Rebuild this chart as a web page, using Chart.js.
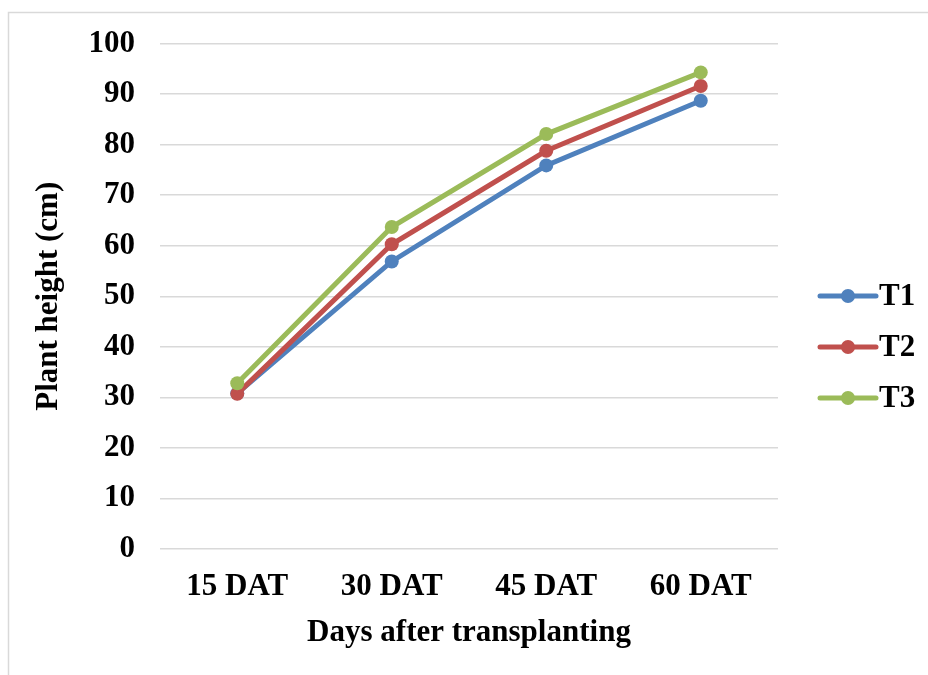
<!DOCTYPE html>
<html>
<head>
<meta charset="utf-8">
<script src="https://cdn.jsdelivr.net/npm/chart.js@4"></script>
<style>
  html, body { margin: 0; padding: 0; background: #fff; }
  #wrap { width: 928px; height: 675px; position: relative; }
</style>
</head>
<body>
<div id="wrap"><canvas id="chart" width="928" height="675"></canvas></div>
<script>
const categories = ['15 DAT', '30 DAT', '45 DAT', '60 DAT'];
const seriesNames = ['T1', 'T2', 'T3'];
const t1 = [30.8, 56.9, 75.9, 88.7];
const t2 = [30.7, 60.3, 78.8, 91.6];
const t3 = [32.8, 63.7, 82.1, 94.3];
const colors = ['#4F81BD', '#C0504D', '#9BBB59'];

const FONT = "'Liberation Serif', 'Times New Roman', serif";
const SIZE = 31;

// legend with line + marker, drawn to the right of the plot
const sideLegend = {
    id: 'sideLegend',
    beforeDraw(chart) {
        const ctx = chart.ctx;
        ctx.save();
        ctx.fillStyle = '#fff';
        ctx.fillRect(0, 0, chart.width, chart.height);
        ctx.strokeStyle = '#d9d9d9';
        ctx.lineWidth = 1.5;
        ctx.strokeRect(8.5, 12.5, 1000, 1000);
        ctx.restore();
    },
    afterDraw(chart) {
        const ctx = chart.ctx;
        ctx.save();
        chart.data.datasets.forEach((ds, i) => {
            const y = 296 + i * 51;
            ctx.strokeStyle = ds.borderColor;
            ctx.lineWidth = 5;
            ctx.lineCap = 'round';
            ctx.beginPath();
            ctx.moveTo(820, y);
            ctx.lineTo(876, y);
            ctx.stroke();
            ctx.fillStyle = ds.borderColor;
            ctx.beginPath();
            ctx.arc(848, y, 7, 0, Math.PI * 2);
            ctx.fill();
            ctx.fillStyle = '#000';
            ctx.font = 'bold ' + SIZE + 'px ' + FONT;
            ctx.textBaseline = 'middle';
            ctx.textAlign = 'left';
            ctx.fillText(ds.label, 879, y + 1);
        });
        ctx.restore();
    }
};

new Chart(document.getElementById('chart').getContext('2d'), {
    type: 'line',
    data: {
        labels: categories,
        datasets: [t1, t2, t3].map((vals, i) => ({
            label: seriesNames[i],
            data: vals,
            order: 3 - i,
            borderColor: colors[i],
            backgroundColor: colors[i],
            borderWidth: 5,
            pointRadius: 7,
            pointHoverRadius: 7,
            pointBorderWidth: 0,
            tension: 0
        }))
    },
    options: {
        responsive: false,
        animation: false,
        layout: { padding: { left: 0, top: 43, right: 150, bottom: 0 } },
        plugins: {
            legend: { display: false },
            tooltip: { enabled: false }
        },
        scales: {
            x: {
                offset: true,
                grid: { display: false, drawTicks: false },
                border: { display: false },
                ticks: { color: '#000', padding: 19, font: { family: FONT, size: SIZE, weight: 'bold' } },
                title: {
                    display: true,
                    text: 'Days after transplanting',
                    color: '#000',
                    padding: { top: 0, bottom: 23 },
                    font: { family: FONT, size: SIZE, weight: 'bold' }
                },
                afterFit(scale) { scale.height = 126; }
            },
            y: {
                min: 0,
                max: 100,
                ticks: { stepSize: 10, color: '#000', padding: 25, font: { family: FONT, size: SIZE, weight: 'bold' } },
                grid: { color: '#d9d9d9', lineWidth: 1.5, drawTicks: false },
                border: { display: false },
                title: {
                    display: true,
                    text: 'Plant height (cm)',
                    color: '#000',
                    padding: { top: 30, bottom: 0 },
                    font: { family: FONT, size: SIZE, weight: 'bold' }
                },
                afterFit(scale) { scale.width = 160; }
            }
        }
    },
    plugins: [sideLegend]
});
</script>
</body>
</html>
